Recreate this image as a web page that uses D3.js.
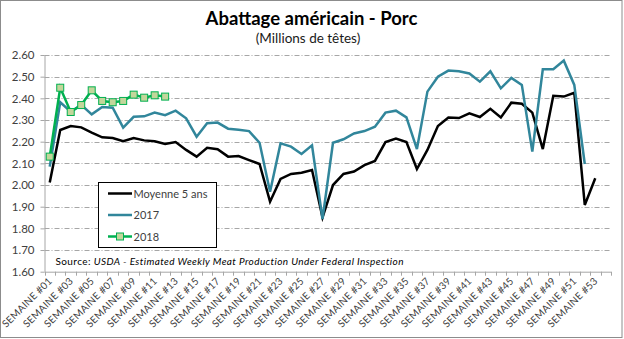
<!DOCTYPE html>
<html>
<head>
<meta charset="utf-8">
<script src="https://cdn.jsdelivr.net/npm/d3@7"></script>
<style>
  body { margin: 0; background: #fff; }
  svg { display: block; font-family: "Lato", "Open Sans", sans-serif; }
</style>
</head>
<body>
<svg id="chart" width="624" height="339"></svg>
<script>
const weeks = d3.range(1, 55).map(i => "SEMAINE #" + String(i).padStart(2, "0"));

const moyenne5 = [2.012, 2.254, 2.272, 2.266, 2.242, 2.220, 2.217, 2.202, 2.217, 2.206,
  2.202, 2.189, 2.198, 2.162, 2.131, 2.172, 2.165, 2.131, 2.134, 2.115,
  2.097, 1.923, 2.028, 2.051, 2.057, 2.069, 1.850, 2.000, 2.051, 2.062,
  2.092, 2.111, 2.198, 2.214, 2.198, 2.074, 2.162, 2.272, 2.311, 2.309,
  2.331, 2.314, 2.352, 2.312, 2.380, 2.375, 2.334, 2.166, 2.412, 2.408,
  2.426, 1.908, 2.031];

const y2017 = [2.085, 2.382, 2.338, 2.370, 2.326, 2.360, 2.357, 2.265, 2.315, 2.317,
  2.334, 2.322, 2.343, 2.308, 2.223, 2.285, 2.288, 2.260, 2.255, 2.249,
  2.195, 1.969, 2.192, 2.177, 2.143, 2.183, 1.843, 2.195, 2.211, 2.238,
  2.249, 2.269, 2.334, 2.343, 2.312, 2.166, 2.431, 2.500, 2.528, 2.525,
  2.515, 2.477, 2.525, 2.446, 2.494, 2.462, 2.154, 2.534, 2.534, 2.574,
  2.462, 2.097];

const y2018 = [2.131, 2.449, 2.337, 2.369, 2.437, 2.388, 2.382, 2.388, 2.417, 2.403,
  2.414, 2.408];

const yTicks = [1.6, 1.7, 1.8, 1.9, 2.0, 2.1, 2.2, 2.3, 2.4, 2.5, 2.6];

const seriesNames = ["Moyenne 5 ans", "2017", "2018"];
const seriesColors = ["#000000", "#31869b", "#00b050"];

const svg = d3.select("#chart");
const m = { left: 44.5, right: 611, top: 55, bottom: 271.7 };

// outer border
svg.append("rect").attr("x", 0.5).attr("y", 0.5).attr("width", 621.5).attr("height", 337)
  .attr("fill", "#fff").attr("stroke", "#8c8c8c").attr("stroke-width", 1);

const x = d3.scaleBand().domain(weeks).range([m.left, m.right]).paddingInner(0).paddingOuter(0);
const y = d3.scaleLinear().domain([1.6, 2.6]).range([m.bottom, m.top]);
const cx = i => x(weeks[i]) + x.bandwidth() / 2;

// gridlines
svg.append("g").selectAll("line").data(yTicks.filter(d => d > 1.6)).join("line")
  .attr("x1", m.left).attr("x2", m.right)
  .attr("y1", d => Math.round(y(d)) + 0.5).attr("y2", d => Math.round(y(d)) + 0.5)
  .attr("stroke", "#a6a6a6").attr("stroke-width", 1)
  .attr("stroke-dasharray", "5,2,1,2");

// y axis
const yAxis = d3.axisLeft(y).tickValues(yTicks).tickFormat(d3.format(".2f")).tickSize(4).tickPadding(6);
const gy = svg.append("g").attr("transform", `translate(${m.left},0)`).call(yAxis);
gy.select(".domain").attr("stroke", "#a6a6a6").attr("d", `M0.5,${m.top}V${m.bottom}`);
gy.selectAll(".tick line").attr("stroke", "#a6a6a6");
gy.selectAll("text").attr("font-size", 11.5).attr("fill", "#404040").attr("font-family", "Lato, sans-serif");

// x axis
const xAxis = d3.axisBottom(x).tickSize(0).tickFormat((d, i) => i % 2 === 0 && i < 53 ? d : "");
const gx = svg.append("g").attr("transform", `translate(0,${m.bottom})`).call(xAxis);
gx.select(".domain").attr("stroke", "#a6a6a6").attr("d", `M${m.left},0.5H${m.right}`);
gx.selectAll(".bt").data(d3.range(0, weeks.length + 1)).join("line")
  .attr("x1", i => Math.round(m.left + i * x.bandwidth()) + 0.5)
  .attr("x2", i => Math.round(m.left + i * x.bandwidth()) + 0.5)
  .attr("y1", 0).attr("y2", 4).attr("stroke", "#a6a6a6");
gx.selectAll(".tick text")
  .attr("font-size", 10).attr("fill", "#404040").attr("font-family", "Lato, sans-serif")
  .attr("letter-spacing", 0.2)
  .attr("text-anchor", "end").attr("dy", null).attr("y", 0)
  .attr("transform", "translate(3,10) rotate(-45)");

// lines
const line = d3.line().x((d, i) => cx(i)).y(d => y(d));
const allSeries = [moyenne5, y2017, y2018];
allSeries.forEach((s, k) => {
  svg.append("path").datum(s).attr("d", line).attr("fill", "none")
    .attr("stroke", seriesColors[k]).attr("stroke-width", 2.5).attr("stroke-linejoin", "miter");
});
// 2018 markers
svg.append("g").selectAll("rect").data(y2018).join("rect")
  .attr("x", (d, i) => cx(i) - 3.5).attr("y", d => y(d) - 3.5)
  .attr("width", 7).attr("height", 7)
  .attr("fill", "#c3d69b").attr("stroke", "#00b050").attr("stroke-width", 1);

// legend
const lg = svg.append("g");
lg.append("rect").attr("x", 98.5).attr("y", 182.5).attr("width", 118).attr("height", 65)
  .attr("fill", "#fff").attr("stroke", "#000").attr("stroke-width", 1);
const ly = [193.5, 215, 236.5];
seriesNames.forEach((n, k) => {
  lg.append("line").attr("x1", 108).attr("x2", 132).attr("y1", ly[k]).attr("y2", ly[k])
    .attr("stroke", seriesColors[k]).attr("stroke-width", 2.5);
  if (k === 2) {
    lg.append("rect").attr("x", 116.5).attr("y", ly[k] - 3.5).attr("width", 7).attr("height", 7)
      .attr("fill", "#c3d69b").attr("stroke", "#00b050");
  }
  lg.append("text").attr("x", 133.5).attr("y", ly[k] + 4).attr("font-size", 11)
    .attr("fill", "#404040").text(n);
});

// source
const src = svg.append("text").attr("x", 55.5).attr("y", 265).attr("font-size", 10)
  .attr("letter-spacing", 0.4).attr("fill", "#000");
src.append("tspan").text("Source: ");
src.append("tspan").attr("font-style", "italic").text("USDA - Estimated Weekly Meat Production Under Federal Inspection");

// title
svg.append("text").attr("x", 311.5).attr("y", 25).attr("text-anchor", "middle")
  .attr("font-size", 18.5).attr("font-weight", "bold").attr("fill", "#000")
  .text("Abattage américain - Porc");
svg.append("text").attr("x", 308).attr("y", 43).attr("text-anchor", "middle")
  .attr("font-size", 13.5).attr("fill", "#1a1a1a")
  .text("(Millions de têtes)");
</script>
</body>
</html>
